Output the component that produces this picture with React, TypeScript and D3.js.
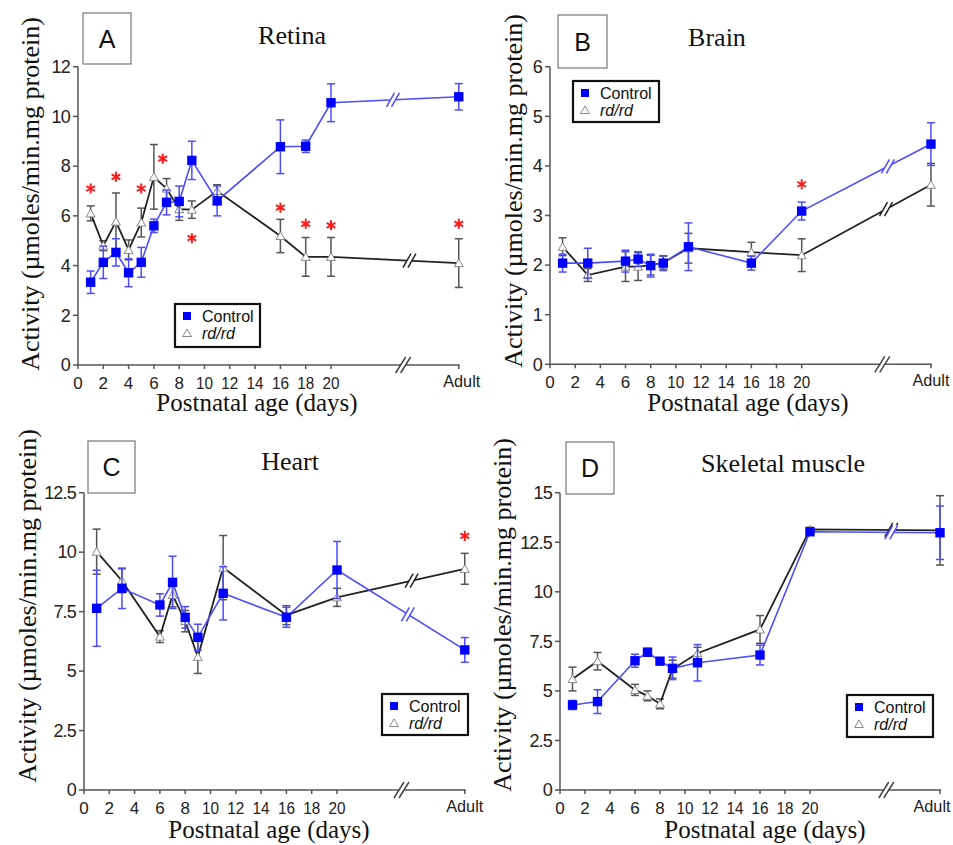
import React from "react";
import * as d3 from "d3";

// ---------- DATA ----------
const ADULT = "Adult";
const retinaDays: (number | string)[] = [1, 2, 3, 4, 5, 6, 7, 8, 9, 11, 16, 18, 20, ADULT];
const retinaControl = [3.33, 4.13, 4.53, 3.71, 4.13, 5.6, 6.54, 6.58, 8.23, 6.6, 8.78, 8.8, 10.55, 10.79];
const retinaControlErr = [0.45, 0.65, 0.55, 0.56, 0.6, 0.27, 0.5, 0.62, 0.77, 0.6, 1.08, 0.25, 0.76, 0.53];
const retinaRd = [6.1, 4.8, 5.77, 4.63, 5.73, 7.57, 7.1, 6.27, 6.25, 7.0, 5.19, 4.35, 4.35, 4.1];
const retinaRdErr = [0.3, 0.2, 1.15, 0.4, 0.58, 1.3, 0.4, 0.45, 0.35, 0.25, 0.67, 0.78, 0.78, 0.98];
const retinaStars: { x: number | string; y: number }[] = [
  { x: 1, y: 7.1 }, { x: 3, y: 7.57 }, { x: 5, y: 7.1 }, { x: 6.7, y: 8.3 }, { x: 9, y: 5.1 },
  { x: 16, y: 6.33 }, { x: 18, y: 5.68 }, { x: 20, y: 5.62 }, { x: ADULT, y: 5.68 },
];

const tissueDays: (number | string)[] = [1, 3, 6, 7, 8, 9, 11, 16, 20, ADULT];

const brainControl = [2.04, 2.04, 2.08, 2.12, 1.99, 2.04, 2.37, 2.04, 3.09, 4.44];
const brainControlErr = [0.18, 0.3, 0.22, 0.15, 0.23, 0.15, 0.48, 0.14, 0.18, 0.43];
const brainRd = [2.37, 1.8, 1.97, 1.97, 2.0, 2.05, 2.34, 2.26, 2.2, 3.62];
const brainRdErr = [0.18, 0.13, 0.3, 0.28, 0.2, 0.13, 0.3, 0.2, 0.33, 0.43];
const brainStars: { x: number | string; y: number }[] = [{ x: 20, y: 3.63 }];

const heartControl = [7.64, 8.48, 7.78, 8.73, 7.26, 6.42, 8.27, 7.26, 9.25, 5.89];
const heartControlErr = [1.6, 0.85, 0.47, 1.1, 0.45, 0.55, 1.12, 0.42, 1.2, 0.52];
const heartRd = [10.02, 8.8, 6.45, 8.2, 7.1, 5.6, 9.35, 7.35, 8.1, 9.3];
const heartRdErr = [0.95, 0.5, 0.25, 0.5, 0.45, 0.7, 1.35, 0.4, 0.38, 0.65];
const heartStars: { x: number | string; y: number }[] = [{ x: ADULT, y: 10.68 }];

const muscleControl = [4.29, 4.46, 6.52, 6.95, 6.5, 6.14, 6.42, 6.81, 13.03, 12.98];
const muscleControlErr = [0.23, 0.6, 0.33, 0.2, 0.15, 0.57, 0.92, 0.5, 0.12, 1.35];
const muscleRd = [5.6, 6.5, 5.05, 4.75, 4.35, 6.1, 6.9, 8.1, 13.15, 13.1];
const muscleRdErr = [0.6, 0.44, 0.28, 0.25, 0.25, 0.45, 0.3, 0.7, 0.1, 1.75];
const muscleStars: { x: number | string; y: number }[] = [];

const xTickValues = [0, 2, 4, 6, 8, 10, 12, 14, 16, 18, 20];
const seriesNames = ["Control", "rd/rd"];
const yLabel = "Activity (\u00b5moles/min.mg protein)";
const xLabel = "Postnatal age (days)";

// ---------- LAYOUT / STYLE ----------
const SERIF = "'Liberation Serif', 'Times New Roman', serif";
const SANS = "'Liberation Sans', Arial, sans-serif";
const BLUE = "#0000ff";
const BLUE_LINE = "#4d4dff";
const DARK = "#222";
const AXIS = "#555";

type Panel = {
  letter: string;
  title: string;
  days: (number | string)[];
  control: number[];
  controlErr: number[];
  rd: number[];
  rdErr: number[];
  stars: { x: number | string; y: number }[];
  yMax: number;
  yStep: number;
  x0: number; x20: number; yTop: number; yBottom: number;
  adultAt: number; adultLabelDx: number; axisBreak: number; ctrlBreak: number; rdBreak: number;
  letterBox: [number, number, number, number];
  titleX: number; titleY: number;
  legend: [number, number, number, number];
  yLabelX: number; yLabelY: number;
  xLabelX: number; xLabelY: number;
};

const panels: Panel[] = [
  {
    letter: "A", title: "Retina", days: retinaDays,
    control: retinaControl, controlErr: retinaControlErr, rd: retinaRd, rdErr: retinaRdErr, stars: retinaStars,
    yMax: 12, yStep: 2,
    x0: 78, x20: 331, yTop: 66.7, yBottom: 365,
    adultAt: 30.1, adultLabelDx: 3, axisBreak: 25.7, ctrlBreak: 24.9, rdBreak: 26.2,
    letterBox: [83, 13, 48, 51], titleX: 292, titleY: 44,
    legend: [175, 304, 85, 43],
    yLabelX: 30, yLabelY: 194, xLabelX: 257, xLabelY: 411,
  },
  {
    letter: "B", title: "Brain", days: tissueDays,
    control: brainControl, controlErr: brainControlErr, rd: brainRd, rdErr: brainRdErr, stars: brainStars,
    yMax: 6, yStep: 1,
    x0: 550, x20: 801.7, yTop: 66.7, yBottom: 364.3,
    adultAt: 30.27, adultLabelDx: 0, axisBreak: 26.4, ctrlBreak: 26.85, rdBreak: 26.7,
    letterBox: [558, 15, 49, 53], titleX: 717, titleY: 46,
    legend: [573, 81, 86, 41],
    yLabelX: 513, yLabelY: 191, xLabelX: 748, xLabelY: 411,
  },
  {
    letter: "C", title: "Heart", days: tissueDays,
    control: heartControl, controlErr: heartControlErr, rd: heartRd, rdErr: heartRdErr, stars: heartStars,
    yMax: 12.5, yStep: 2.5,
    x0: 84, x20: 337, yTop: 492.7, yBottom: 790,
    adultAt: 30.1, adultLabelDx: 0, axisBreak: 25.1, ctrlBreak: 25.6, rdBreak: 25.9,
    letterBox: [88, 441, 47, 52], titleX: 290, titleY: 470,
    legend: [382, 694, 86, 41],
    yLabelX: 27, yLabelY: 606, xLabelX: 269, xLabelY: 838,
  },
  {
    letter: "D", title: "Skeletal muscle", days: tissueDays,
    control: muscleControl, controlErr: muscleControlErr, rd: muscleRd, rdErr: muscleRdErr, stars: muscleStars,
    yMax: 15, yStep: 2.5,
    x0: 560, x20: 810, yTop: 492.7, yBottom: 790,
    adultAt: 30.4, adultLabelDx: -8, axisBreak: 26.1, ctrlBreak: 26.5, rdBreak: 26.5,
    letterBox: [566, 442, 48, 52], titleX: 783, titleY: 472,
    legend: [847, 695, 86, 42],
    yLabelX: 502, yLabelY: 615, xLabelX: 765, xLabelY: 838,
  },
];

const squarePath = d3.symbol().type(d3.symbolSquare).size(88)() as string;
const trianglePath = d3.symbol().type(d3.symbolTriangle).size(34)() as string;
const starPath = d3.symbol().type(d3.symbolAsterisk).size(70)() as string;
const legendSquare = d3.symbol().type(d3.symbolSquare).size(64)() as string;

function PanelChart({ p }: { p: Panel }) {
  const x = d3.scaleLinear().domain([0, 20]).range([p.x0, p.x20]);
  const y = d3.scaleLinear().domain([0, p.yMax]).range([p.yBottom, p.yTop]);
  const xv = (d: number | string) => (d === ADULT ? x(p.adultAt) : x(d as number));
  const yTicks = d3.range(0, p.yMax + p.yStep / 2, p.yStep);
  const line = d3.line<[number, number]>().x((d) => d[0]).y((d) => d[1]);

  const ctrlPts: [number, number][] = p.days.map((d, i) => [xv(d), y(p.control[i])]);
  const rdPts: [number, number][] = p.days.map((d, i) => [xv(d), y(p.rd[i])]);

  const breakOnLine = (pts: [number, number][], bx: number) => {
    const a = pts[pts.length - 2];
    const b = pts[pts.length - 1];
    const t = (bx - a[0]) / (b[0] - a[0]);
    return [bx, a[1] + t * (b[1] - a[1])] as [number, number];
  };

  const slashes = (cx: number, cy: number, color: string, key: string, h = 7, w = 4, gap = 5) => (
    <g key={key}>
      <polygon
        points={`${cx - gap / 2 - w},${cy + h} ${cx - gap / 2 + w},${cy - h} ${cx + gap / 2 + w},${cy - h} ${cx + gap / 2 - w},${cy + h}`}
        fill="#fff"
      />
      <line x1={cx - gap / 2 - w} y1={cy + h} x2={cx - gap / 2 + w} y2={cy - h} stroke={color} strokeWidth={1.5} />
      <line x1={cx + gap / 2 - w} y1={cy + h} x2={cx + gap / 2 + w} y2={cy - h} stroke={color} strokeWidth={1.5} />
    </g>
  );

  const ctrlBreakPt = breakOnLine(ctrlPts, x(p.ctrlBreak));
  const rdBreakPt = breakOnLine(rdPts, x(p.rdBreak));
  const [lx, ly, lw, lh] = p.legend;
  const [bx, by, bw, bh] = p.letterBox;

  return (
    <g>
      {/* letter box */}
      <rect x={bx} y={by} width={bw} height={bh} fill="#fff" stroke="#777" strokeWidth={1.2} />
      <text x={bx + bw / 2} y={by + bh / 2 + 9} textAnchor="middle" fontFamily={SANS} fontSize={25} fill="#111">
        {p.letter}
      </text>
      {/* title */}
      <text x={p.titleX} y={p.titleY} textAnchor="middle" fontFamily={SERIF} fontSize={26} fill="#111">
        {p.title}
      </text>

      {/* axes */}
      <line x1={p.x0} y1={p.yBottom} x2={p.x0} y2={p.yTop} stroke={AXIS} strokeWidth={1.5} />
      {yTicks.map((v) => (
        <g key={"yt" + v}>
          <line x1={p.x0 - 5} x2={p.x0} y1={y(v)} y2={y(v)} stroke={AXIS} strokeWidth={1.5} />
          <text x={p.x0 - 8} y={y(v)} dy="0.35em" textAnchor="end" fontFamily={SANS} fontSize={18} fill="#222" letterSpacing={-0.8}>
            {String(v)}
          </text>
        </g>
      ))}
      <line x1={p.x0} y1={p.yBottom} x2={x(p.adultAt) + 1} y2={p.yBottom} stroke={AXIS} strokeWidth={1.5} />
      {xTickValues.map((v) => (
        <g key={"xt" + v}>
          <line x1={x(v)} x2={x(v)} y1={p.yBottom} y2={p.yBottom + 4} stroke={AXIS} strokeWidth={1.5} />
          {String(v).length > 1 ? (
            <text
              x={x(v)}
              y={p.yBottom + 24}
              textAnchor="middle"
              fontFamily={SANS}
              fontSize={17}
              fill="#222"
              textLength={17}
              lengthAdjust="spacingAndGlyphs"
            >
              {v}
            </text>
          ) : (
            <text x={x(v)} y={p.yBottom + 24} textAnchor="middle" fontFamily={SANS} fontSize={17} fill="#222">
              {v}
            </text>
          )}
        </g>
      ))}
      <line x1={x(p.adultAt)} x2={x(p.adultAt)} y1={p.yBottom} y2={p.yBottom + 4} stroke={AXIS} strokeWidth={1.5} />
      <text
        x={x(p.adultAt) + p.adultLabelDx}
        y={p.yBottom + 22}
        textAnchor="middle"
        fontFamily={SANS}
        fontSize={17}
        fill="#222"
        textLength={37}
        lengthAdjust="spacingAndGlyphs"
      >
        {ADULT}
      </text>
      {slashes(x(p.axisBreak), p.yBottom, "#444", "axbrk", 8, 5, 5)}

      {/* axis labels */}
      <text
        transform={`translate(${p.yLabelX},${p.yLabelY}) rotate(-90)`}
        dy="0.35em"
        textAnchor="middle"
        fontFamily={SERIF}
        fontSize={26}
        fill="#111"
      >
        {yLabel}
      </text>
      <text x={p.xLabelX} y={p.xLabelY} textAnchor="middle" fontFamily={SERIF} fontSize={25} fill="#111">
        {xLabel}
      </text>

      {/* rd/rd series */}
      {p.days.map((d, i) => (
        <g key={"rde" + i} stroke="#555" strokeWidth={1.5}>
          <line x1={xv(d)} x2={xv(d)} y1={y(p.rd[i] + p.rdErr[i])} y2={y(p.rd[i] - p.rdErr[i])} />
          <line x1={xv(d) - 4} x2={xv(d) + 4} y1={y(p.rd[i] + p.rdErr[i])} y2={y(p.rd[i] + p.rdErr[i])} />
          <line x1={xv(d) - 4} x2={xv(d) + 4} y1={y(p.rd[i] - p.rdErr[i])} y2={y(p.rd[i] - p.rdErr[i])} />
        </g>
      ))}
      <path d={line(rdPts) as string} fill="none" stroke={DARK} strokeWidth={1.8} />
      {slashes(rdBreakPt[0], rdBreakPt[1], DARK, "rdbrk")}
      {rdPts.map((pt, i) => (
        <path key={"rdm" + i} d={trianglePath} transform={`translate(${pt[0]},${pt[1] + 1})`} fill="#fff" stroke="#888" strokeWidth={1} />
      ))}

      {/* Control series */}
      {p.days.map((d, i) => (
        <g key={"ce" + i} stroke={BLUE_LINE} strokeWidth={1.5}>
          <line x1={xv(d)} x2={xv(d)} y1={y(p.control[i] + p.controlErr[i])} y2={y(p.control[i] - p.controlErr[i])} />
          <line x1={xv(d) - 4} x2={xv(d) + 4} y1={y(p.control[i] + p.controlErr[i])} y2={y(p.control[i] + p.controlErr[i])} />
          <line x1={xv(d) - 4} x2={xv(d) + 4} y1={y(p.control[i] - p.controlErr[i])} y2={y(p.control[i] - p.controlErr[i])} />
        </g>
      ))}
      <path d={line(ctrlPts) as string} fill="none" stroke={BLUE_LINE} strokeWidth={1.6} />
      {slashes(ctrlBreakPt[0], ctrlBreakPt[1], BLUE_LINE, "cbrk")}
      {ctrlPts.map((pt, i) => (
        <path key={"cm" + i} d={squarePath} transform={`translate(${pt[0]},${pt[1]})`} fill={BLUE} />
      ))}

      {/* significance stars */}
      {p.stars.map((s, i) => (
        <path key={"st" + i} d={starPath} transform={`translate(${xv(s.x)},${y(s.y)})`} fill="none" stroke="#ff1a1a" strokeWidth={2} />
      ))}

      {/* legend */}
      <rect x={lx} y={ly} width={lw} height={lh} fill="#fff" stroke="#111" strokeWidth={2.2} />
      <path d={legendSquare} transform={`translate(${lx + 12},${ly + 12})`} fill={BLUE} />
      <text x={lx + 27} y={ly + 12} dy="0.35em" fontFamily={SANS} fontSize={16} fill="#111">
        {seriesNames[0]}
      </text>
      <path d={trianglePath} transform={`translate(${lx + 12},${ly + 30})`} fill="#fff" stroke="#888" strokeWidth={1} />
      <text x={lx + 27} y={ly + 29} dy="0.35em" fontFamily={SANS} fontSize={16} fontStyle="italic" fill="#111">
        {seriesNames[1]}
      </text>
    </g>
  );
}

export default function App() {
  return (
    <svg
      width={953}
      height={845}
      viewBox="0 0 953 845"
      style={{ position: "absolute", left: 0, top: 0, background: "#fff" }}
    >
      <rect width={953} height={845} fill="#fff" />
      {panels.map((p) => (
        <PanelChart key={p.letter} p={p} />
      ))}
    </svg>
  );
}
